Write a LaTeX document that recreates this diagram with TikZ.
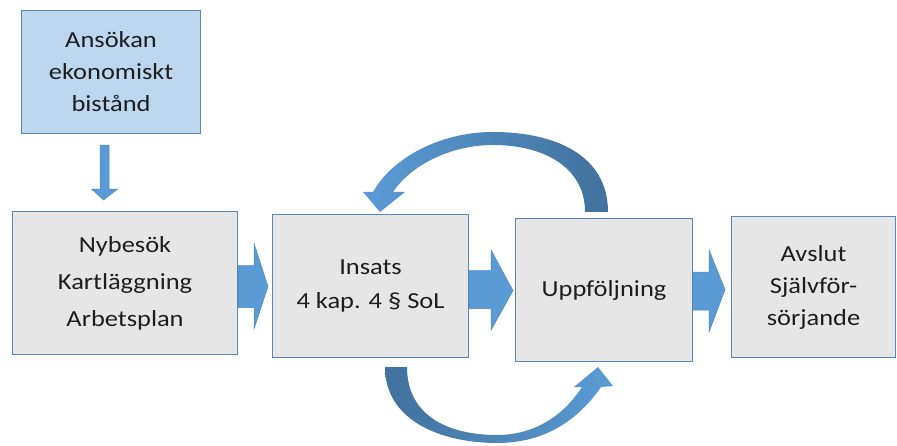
\documentclass[tikz,border=0pt]{standalone}
\usepackage{fontspec}
\setmainfont{Carlito}[FakeStretch=1.15]
\usetikzlibrary{calc}
\definecolor{boxfill}{HTML}{E7E6E6}
\definecolor{boxline}{HTML}{5A86B4}
\definecolor{topfill}{HTML}{BDD7EE}
\definecolor{arrowfill}{HTML}{5B9BD5}
\definecolor{arrowline}{HTML}{4F88C0}
\definecolor{darkarrow}{HTML}{41719C}
\definecolor{txt}{HTML}{1E1E1E}
\tikzset{
  box/.style={draw=boxline, line width=1.1pt, fill=boxfill, anchor=north west,
    align=center, inner sep=0pt, text=txt, font=\fontsize{23}{32}\selectfont},
  blockarrow/.style={fill=arrowfill, draw=arrowline, line width=0.5pt, line join=miter},
}
\begin{document}
\begin{tikzpicture}[x=1pt,y=-1pt]
\useasboundingbox (0,0) rectangle (897,446);
% boxes
\node[box, fill=topfill, minimum width=179pt, minimum height=123pt] (ans) at (21,10)
  {Ansökan\\ekonomiskt\\bistånd};
\node[box, minimum width=225pt, minimum height=143pt, font=\fontsize{23}{37}\selectfont] (nyb) at (12,211)
  {Nybesök\\Kartläggning\\Arbetsplan};
\node[box, minimum width=196pt, minimum height=143pt, font=\fontsize{23}{34}\selectfont] (ins) at (272,214)
  {Insats\\4 kap. 4 § SoL};
\node[box, minimum width=177pt, minimum height=143pt] (upp) at (515,218)
  {Uppföljning};
\node[box, minimum width=164pt, minimum height=141pt] (avs) at (731,216)
  {Avslut\\Självför-\\sörjande};
% down arrow
\coordinate (d0) at ($(ans.south)+(-6.5,11)$);
\fill[blockarrow] ($(d0)+(-4.5,0)$) -- ($(d0)+(4.5,0)$) -- ($(d0)+(4.5,44)$) -- ($(d0)+(13,44)$)
  -- ($(nyb.north)+(-21.5,-11)$) -- ($(d0)+(-13,44)$) -- ($(d0)+(-4.5,44)$) -- cycle;
% right arrows
\coordinate (a1) at ($(nyb.east)+(0,3.5)$);
\fill[blockarrow] ($(a1)+(0,-21)$) -- ($(a1)+(16,-21)$) -- ($(a1)+(16,-43)$) -- ($(ins.west)+(-4,0.5)$)
  -- ($(a1)+(16,42)$) -- ($(a1)+(16,21)$) -- ($(a1)+(0,21)$) -- cycle;
\coordinate (a2) at ($(ins.east)+(0,3.5)$);
\fill[blockarrow] ($(a2)+(0,-19)$) -- ($(a2)+(22,-19)$) -- ($(a2)+(22,-39.5)$) -- ($(upp.west)+(-2,0.5)$)
  -- ($(a2)+(22,40.5)$) -- ($(a2)+(22,19)$) -- ($(a2)+(0,19)$) -- cycle;
\coordinate (a3) at ($(upp.east)+(0,1.5)$);
\fill[blockarrow] ($(a3)+(0,-19.5)$) -- ($(a3)+(16,-19.5)$) -- ($(a3)+(16,-41.5)$) -- ($(avs.west)+(-6,2.5)$)
  -- ($(a3)+(16,40.5)$) -- ($(a3)+(16,18.5)$) -- ($(a3)+(0,18.5)$) -- cycle;
% top curved arrow (Uppföljning -> Insats)
\shade[left color=arrowfill, right color=darkarrow]
  (608,212) .. controls (608,155) and (555,132) .. (493,132)
  .. controls (440,132) and (392,158) .. (373,192)
  -- (363,192) -- (380,212) -- (405,192) -- (393,192)
  .. controls (412,164) and (452,145) .. (493,145)
  .. controls (545,145) and (585,168) .. (585,212) -- cycle;
% bottom curved arrow (Insats -> Uppföljning)
\shade[left color=darkarrow, right color=arrowfill]
  (385,367) .. controls (385,420) and (440,443) .. (497,443)
  .. controls (545,443) and (578,420) .. (601,387)
  -- (613,386) -- (598,367) -- (574,387) -- (582,387)
  .. controls (562,418) and (532,435) .. (497,435)
  .. controls (447,435) and (407,415) .. (407,367) -- cycle;
\end{tikzpicture}
\end{document}
